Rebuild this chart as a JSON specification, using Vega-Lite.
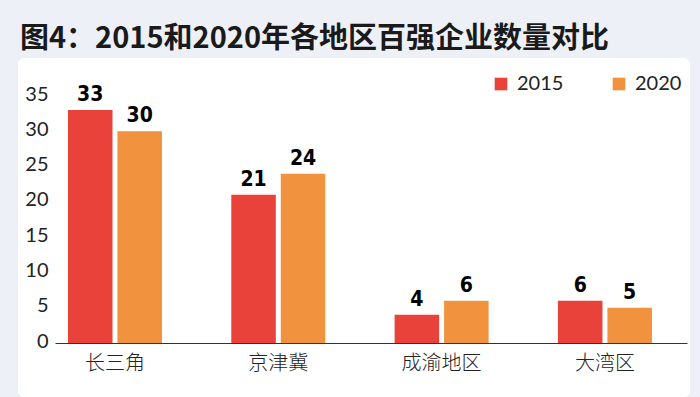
{
  "$schema": "https://vega.github.io/schema/vega-lite/v6.json",
  "width": 672,
  "height": 339,
  "autosize": {"type": "none"},
  "padding": {"left": 18, "top": 58, "right": 10, "bottom": 0},
  "background": "#eef0f8",
  "view": {"fill": "white", "stroke": null, "cornerRadius": 6},
  "title": {
    "text": "图4：2015和2020年各地区百强企业数量对比",
    "anchor": "start",
    "frame": "group",
    "font": "Noto Sans CJK SC",
    "fontSize": 29,
    "fontWeight": "bold",
    "color": "#1a1a1a",
    "baseline": "alphabetic",
    "offset": 9,
    "dx": 2,
    "dy": 28
  },
  "data": {
    "values": [
      {"region": "长三角", "year": "2015", "count": 33},
      {"region": "长三角", "year": "2020", "count": 30},
      {"region": "京津冀", "year": "2015", "count": 21},
      {"region": "京津冀", "year": "2020", "count": 24},
      {"region": "成渝地区", "year": "2015", "count": 4},
      {"region": "成渝地区", "year": "2020", "count": 6},
      {"region": "大湾区", "year": "2015", "count": 6},
      {"region": "大湾区", "year": "2020", "count": 5}
    ]
  },
  "encoding": {
    "x": {
      "field": "region",
      "type": "nominal",
      "sort": ["长三角", "京津冀", "成渝地区", "大湾区"],
      "scale": {"range": [37, 669], "paddingInner": 0.4244, "paddingOuter": 0.147, "align": 0.27},
      "axis": {
        "title": null,
        "orient": "bottom",
        "offset": -54,
        "domainColor": "#333333",
        "domainWidth": 1.2,
        "ticks": false,
        "labelPadding": 10,
        "labelAngle": 0,
        "labelFont": "Noto Sans CJK SC",
        "labelFontSize": 20,
        "labelFontWeight": 300,
        "labelColor": "#222222",
        "grid": false
      }
    },
    "xOffset": {
      "field": "year",
      "type": "nominal",
      "scale": {"paddingInner": 0.1, "paddingOuter": 0}
    },
    "y": {
      "field": "count",
      "type": "quantitative",
      "scale": {"domain": [0, 35], "range": [285, 38], "nice": false, "zero": true},
      "axis": {
        "title": null,
        "values": [0, 5, 10, 15, 20, 25, 30, 35],
        "offset": -32,
        "domain": false,
        "ticks": false,
        "grid": false,
        "labelPadding": 2,
        "labelFlush": false,
        "labelOffset": -2,
        "labelFont": "Lato",
        "labelFontSize": 20,
        "labelColor": "#222222"
      }
    }
  },
  "layer": [
    {
      "mark": {"type": "bar"},
      "encoding": {
        "color": {
          "field": "year",
          "type": "nominal",
          "scale": {"domain": ["2015", "2020"], "range": ["#e8423a", "#f0923e"]},
          "legend": {
            "orient": "none",
            "legendX": 473,
            "legendY": 16,
            "direction": "horizontal",
            "title": null,
            "padding": 0,
            "symbolType": "square",
            "symbolSize": 160,
            "symbolStrokeWidth": 0,
            "labelFont": "Lato",
            "labelFontSize": 20,
            "labelColor": "#222222",
            "labelOffset": 6,
            "columnPadding": 45
          }
        }
      }
    },
    {
      "mark": {
        "type": "text",
        "baseline": "bottom",
        "dy": -5,
        "font": "'DejaVu Sans Condensed', 'Roboto Condensed', 'Liberation Sans', sans-serif",
        "fontWeight": "bold",
        "fontSize": 21,
        "color": "#000000"
      },
      "encoding": {
        "text": {"field": "count", "type": "quantitative"}
      }
    }
  ]
}
